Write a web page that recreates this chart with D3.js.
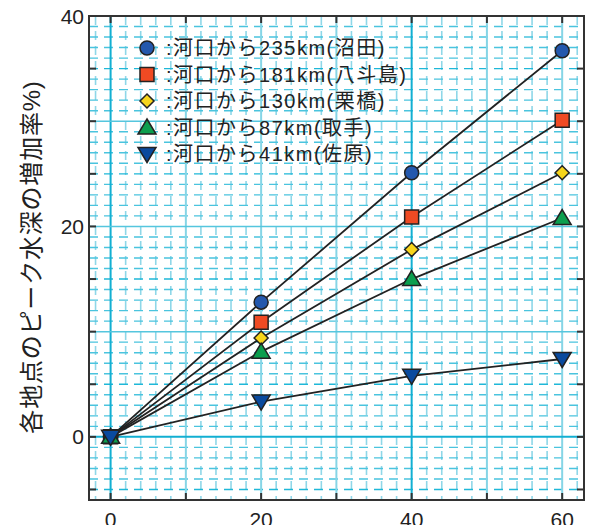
<!DOCTYPE html>
<html><head><meta charset="utf-8">
<script src="https://cdn.jsdelivr.net/npm/d3@7"></script>
<style>
html,body{margin:0;padding:0;background:#fff;}
svg{display:block;}
text{font-family:"Liberation Sans",Arial,"Noto Sans CJK JP",sans-serif;fill:#222;}
</style></head>
<body>
<svg id="chart" width="597" height="525"></svg>
<script>
const xValues = [0, 20, 40, 60];
const seriesNames = ["河口から235km(沼田)", "河口から181km(八斗島)", "河口から130km(栗橋)", "河口から87km(取手)", "河口から41km(佐原)"];
const s235 = [0, 12.8, 25.1, 36.7];
const s181 = [0, 10.9, 20.9, 30.1];
const s130 = [0, 9.4, 17.8, 25.1];
const s87 = [0, 8.1, 15.0, 20.8];
const s41 = [0, 3.35, 5.8, 7.4];
const xTickLabels = [0, 20, 40, 60];
const yTickLabels = [0, 20, 40];
const yTitle = "各地点のピーク水深の増加率%)";

const seriesValues = [s235, s181, s130, s87, s41];
const shapes = ["circle", "square", "diamond", "triUp", "triDown"];
const fills = ["#2458ad", "#ef4a23", "#f7d51c", "#0c9e4e", "#0a4a9e"];

const svg = d3.select("#chart");
const L = 89, R = 584, T = 16, B = 500;
const x = d3.scaleLinear().domain([-2.87, 62.9]).range([L, R]);
const y = d3.scaleLinear().domain([-6, 40]).range([B, T]);

svg.append("defs").append("clipPath").attr("id","clip")
  .append("rect").attr("x",L).attr("y",T).attr("width",R-L).attr("height",B-T);

const grid = svg.append("g").attr("clip-path","url(#clip)");
// minor vertical dashed (every 2)
d3.range(-2, 64, 2).filter(v => v % 10 !== 0).forEach(v => {
  grid.append("line").attr("x1",x(v)).attr("x2",x(v)).attr("y1",T).attr("y2",B)
    .attr("stroke","#8fd7e8").attr("stroke-width",1.6).attr("stroke-dasharray","9,6");
});
// minor horizontal dashed (every 1)
d3.range(-6, 41, 1).filter(v => v % 10 !== 0).forEach(v => {
  grid.append("line").attr("x1",L).attr("x2",R).attr("y1",y(v)).attr("y2",y(v))
    .attr("stroke", v % 5 === 0 ? "#1fb8d8" : "#4ac4de").attr("stroke-width",1.4).attr("stroke-dasharray","9,6");
});
// major vertical
d3.range(0, 70, 10).forEach(v => {
  const dark = (v === 0 || v === 40);
  grid.append("line").attr("x1",x(v)).attr("x2",x(v)).attr("y1",T).attr("y2",B)
    .attr("stroke", dark ? "#12afd2" : "#86d5e6").attr("stroke-width", 2);
});
// major horizontal
d3.range(0, 40, 10).forEach(v => {
  const dark = v === 0;
  grid.append("line").attr("x1",L).attr("x2",R).attr("y1",y(v)).attr("y2",y(v))
    .attr("stroke", dark ? "#12afd2" : "#55c6de").attr("stroke-width", dark ? 2 : 1.5);
});

// frame & ticks
svg.append("rect").attr("x",L).attr("y",T).attr("width",R-L).attr("height",B-T)
  .attr("fill","none").attr("stroke","#333").attr("stroke-width",2);
const tl = 7;
d3.range(0, 70, 10).forEach(v => {
  svg.append("line").attr("x1",x(v)).attr("x2",x(v)).attr("y1",B).attr("y2",B-tl).attr("stroke","#333").attr("stroke-width",2);
  svg.append("line").attr("x1",x(v)).attr("x2",x(v)).attr("y1",T).attr("y2",T+tl).attr("stroke","#333").attr("stroke-width",2);
});
d3.range(-5, 41, 5).forEach(v => {
  svg.append("line").attr("x1",L).attr("x2",L+tl).attr("y1",y(v)).attr("y2",y(v)).attr("stroke","#333").attr("stroke-width",2);
  svg.append("line").attr("x1",R).attr("x2",R-tl).attr("y1",y(v)).attr("y2",y(v)).attr("stroke","#333").attr("stroke-width",2);
});

// tick labels
yTickLabels.forEach(v => {
  svg.append("text").attr("x",L-5).attr("y",y(v)).attr("dy","0.36em")
    .attr("text-anchor","end").attr("font-size",21).text(v);
});
xTickLabels.forEach(v => {
  svg.append("text").attr("x",x(v)).attr("y",527)
    .attr("text-anchor","middle").attr("font-size",21).text(v);
});

// y title
svg.append("text").attr("transform","translate(31,257) rotate(-90)")
  .attr("text-anchor","middle").attr("dy","0.36em")
  .attr("font-family","'Noto Sans CJK JP',sans-serif").attr("font-size",24)
  .attr("letter-spacing",0.8).text(yTitle);

// marker shapes
function shapePath(type) {
  switch (type) {
    case "circle": return d3.symbol(d3.symbolCircle, Math.PI*7*7)();
    case "square": return "M-7,-7H7V7H-7Z";
    case "diamond": return "M0,-7L7,0L0,7L-7,0Z";
    case "triUp": return "M0,-8.5L9,6.5H-9Z";
    case "triDown": return "M0,8.5L9,-6.5H-9Z";
  }
}

const line = d3.line().x((d,i) => x(xValues[i])).y(d => y(d));
const plot = svg.append("g");
seriesValues.forEach(vals => {
  plot.append("path").attr("d", line(vals)).attr("fill","none").attr("stroke","#222").attr("stroke-width",1.8);
});
seriesValues.forEach((vals, si) => {
  plot.selectAll(null).data(vals).enter().append("path")
    .attr("d", shapePath(shapes[si]))
    .attr("transform", (d,i) => `translate(${x(xValues[i])},${y(d)})`)
    .attr("fill", fills[si]).attr("stroke","#222").attr("stroke-width",1.5);
});

// legend
const legend = svg.append("g");
const legY = d3.scalePoint().domain(d3.range(seriesNames.length)).range([48, 154]);
seriesNames.forEach((name, i) => {
  legend.append("path").attr("d", shapePath(shapes[i]))
    .attr("transform", `translate(147,${legY(i)})`)
    .attr("fill", fills[i]).attr("stroke","#222").attr("stroke-width",1.5);
  legend.append("text").attr("x",166).attr("y",legY(i)).attr("dy","0.36em")
    .attr("font-size",20).attr("letter-spacing",1.5).text(":" + name);
});
</script>
</body></html>
